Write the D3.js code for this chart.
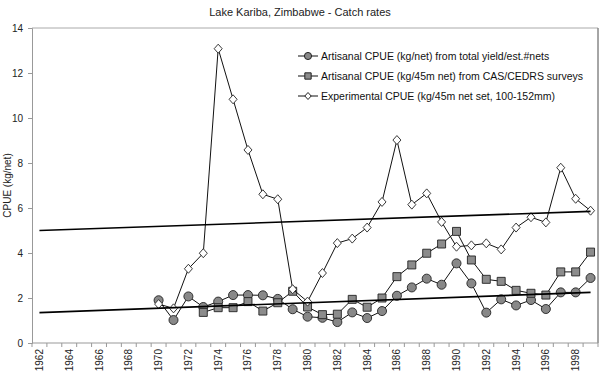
<!DOCTYPE html>
<html>
<head>
<meta charset="utf-8">
<script src="https://cdn.jsdelivr.net/npm/d3@7"></script>
<style>
  body { margin: 0; background: #fff; }
  svg { font-family: "Liberation Sans", Arial, sans-serif; }
</style>
</head>
<body>
<div id="chart"></div>
<script>
// categories: one per year, 1962..1999
const years = d3.range(1962, 2000);
const yTicks = [0, 2, 4, 6, 8, 10, 12, 14];

// series values (kg/net)
const artisanalYears = d3.range(1970, 2000);
const artisanalTotal = [1.9, 1.02, 2.07, 1.6, 1.84, 2.13, 2.13, 2.12, 1.96, 1.5,
    1.17, 1.12, 0.93, 1.36, 1.11, 1.42, 2.1, 2.47, 2.86, 2.59,
    3.54, 2.65, 1.35, 1.94, 1.67, 1.91, 1.51, 2.25, 2.25, 2.89];

const surveyYears = d3.range(1973, 2000);
const surveyCpue = [1.36, 1.57, 1.57, 1.84, 1.42, 1.79, 2.3, 1.6,
    1.26, 1.28, 1.94, 1.59, 2.0, 2.95, 3.47, 3.99, 4.4,
    4.96, 3.69, 2.83, 2.74, 2.34, 2.21, 2.13, 3.16, 3.16, 4.04];

const expYears = d3.range(1970, 2000);
const expCpue = [1.73, 1.54, 3.3, 3.99, 13.08, 10.83, 8.58, 6.61, 6.39, 2.39,
    1.84, 3.11, 4.44, 4.64, 5.13, 6.27, 9.02, 6.15, 6.65, 5.38,
    4.28, 4.34, 4.43, 4.16, 5.13, 5.59, 5.36, 7.79, 6.41, 5.88];

// linear trend lines (start / end)
const trendYears = [1962, 1999];
const trendUpper = [5.0, 5.85];
const trendLower = [1.35, 2.25];

const legendLabels = [
    "Artisanal CPUE (kg/net) from total yield/est.#nets",
    "Artisanal CPUE (kg/45m net) from CAS/CEDRS surveys",
    "Experimental CPUE (kg/45m net set, 100-152mm)"
];

const W = 600, H = 372;
const margin = { top: 28, right: 2, bottom: 29, left: 32 };
const width = W - margin.left - margin.right;
const height = H - margin.top - margin.bottom;

const svg = d3.select("#chart").append("svg")
    .attr("width", W).attr("height", H);

svg.append("text")
    .attr("x", 300).attr("y", 16)
    .attr("text-anchor", "middle")
    .attr("font-size", 11)
    .attr("fill", "#222")
    .text("Lake Kariba, Zimbabwe - Catch rates");

const g = svg.append("g")
    .attr("transform", `translate(${margin.left},${margin.top})`);

const x = d3.scaleBand().domain(years).range([0, width]);
const cx = yr => x(yr) + x.bandwidth() / 2;
const y = d3.scaleLinear().domain([0, 14]).range([height, 0]);

// plot frame (top & right)
g.append("path")
    .attr("d", `M0,0H${width}V${height}`)
    .attr("fill", "none")
    .attr("stroke", "#aaa");
g.append("line")
    .attr("x1", width).attr("x2", width)
    .attr("y1", 0).attr("y2", height)
    .attr("stroke", "#777");

// y axis
const yAxis = g.append("g")
    .call(d3.axisLeft(y).tickValues(yTicks).tickSize(4).tickPadding(5));
yAxis.select(".domain").attr("stroke", "#999");
yAxis.selectAll(".tick line").attr("stroke", "#999");
yAxis.selectAll("text").attr("font-size", 10).attr("fill", "#222")
    .attr("font-family", "Liberation Sans, Arial, sans-serif");

// x axis: a tick at every category boundary, label on every other year
const xAxis = g.append("g").attr("transform", `translate(0,${height})`);
xAxis.append("line")
    .attr("x1", 0).attr("x2", width)
    .attr("stroke", "#999");
xAxis.selectAll(".bt")
    .data(d3.range(years.length + 1))
    .join("line")
    .attr("x1", i => i * x.step()).attr("x2", i => i * x.step())
    .attr("y1", 0).attr("y2", 4)
    .attr("stroke", "#999");
xAxis.selectAll(".lbl")
    .data(years.filter(yr => (yr - 1962) % 2 === 0))
    .join("text")
    .attr("transform", yr => `translate(${cx(yr) + 3.5},6) rotate(-90)`)
    .attr("text-anchor", "end")
    .attr("font-size", 10)
    .attr("fill", "#222")
    .text(d => d);

svg.append("text")
    .attr("transform", `translate(11,${margin.top + height / 2}) rotate(-90)`)
    .attr("text-anchor", "middle")
    .attr("font-size", 10)
    .attr("fill", "#222")
    .text("CPUE (kg/net)");

const line = d3.line().x(d => cx(d[0])).y(d => y(d[1]));

function drawSeries(xs, vs, marker) {
    const pts = xs.map((yr, i) => [yr, vs[i]]);
    g.append("path")
        .attr("d", line(pts))
        .attr("fill", "none")
        .attr("stroke", "#111")
        .attr("stroke-width", 1);
    g.append("g").selectAll("path")
        .data(pts)
        .join("path")
        .attr("transform", d => `translate(${cx(d[0])},${y(d[1])})`)
        .attr("d", marker.d)
        .attr("fill", marker.fill)
        .attr("stroke", "#222")
        .attr("stroke-width", 0.9);
}

const circle = { d: d3.symbol(d3.symbolCircle, 64)(), fill: "#888" };
const square = { d: d3.symbol(d3.symbolSquare, 64)(), fill: "#8c8c8c" };
const diamond = { d: "M0,-4.5L4,0L0,4.5L-4,0Z", fill: "#fff" };

drawSeries(artisanalYears, artisanalTotal, circle);
drawSeries(surveyYears, surveyCpue, square);
drawSeries(expYears, expCpue, diamond);

// trend lines
[trendUpper, trendLower].forEach(vs => {
    g.append("path")
        .attr("d", line(trendYears.map((yr, i) => [yr, vs[i]])))
        .attr("stroke", "#000")
        .attr("stroke-width", 1.6);
});

// legend
const legend = svg.append("g").attr("transform", "translate(298,56)");
const legendMarkers = [
    { d: d3.symbol(d3.symbolCircle, 40)(), fill: "#888" },
    { d: d3.symbol(d3.symbolSquare, 40)(), fill: "#8c8c8c" },
    { d: "M0,-3.5L3.2,0L0,3.5L-3.2,0Z", fill: "#fff" }
];
legendLabels.forEach((lab, i) => {
    const row = legend.append("g").attr("transform", `translate(0,${i * 20})`);
    row.append("line").attr("x1", 0).attr("x2", 20).attr("stroke", "#111");
    row.append("path")
        .attr("transform", "translate(10,0)")
        .attr("d", legendMarkers[i].d)
        .attr("fill", legendMarkers[i].fill)
        .attr("stroke", "#222");
    row.append("text")
        .attr("x", 23).attr("y", 4)
        .attr("font-size", 10.5)
        .attr("fill", "#111")
        .text(lab);
});
</script>
</body>
</html>
